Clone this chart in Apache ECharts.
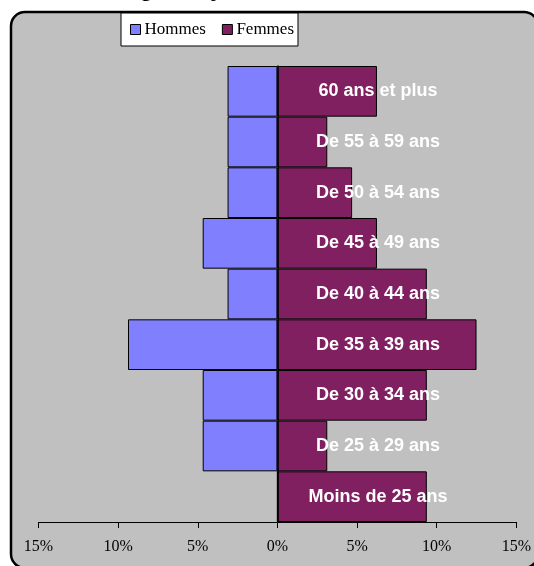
<!DOCTYPE html>
<html>
<head>
<meta charset="utf-8">
<script src="https://cdn.jsdelivr.net/npm/echarts@6/dist/echarts.min.js"></script>
<style>
  html, body { margin: 0; padding: 0; background: #fff; }
  #main { width: 534px; height: 566px; }
</style>
</head>
<body>
<div id="main"></div>
<script>
// age groups, bottom to top
const categories = ['Moins de 25 ans', 'De 25 à 29 ans', 'De 30 à 34 ans', 'De 35 à 39 ans',
  'De 40 à 44 ans', 'De 45 à 49 ans', 'De 50 à 54 ans', 'De 55 à 59 ans', '60 ans et plus']
// shares in %
const hommes = [0, 4.69, 4.69, 9.38, 3.13, 4.69, 3.13, 3.13, 3.13]
const femmes = [9.38, 3.13, 9.38, 12.5, 9.38, 6.25, 4.69, 3.13, 6.25]
const seriesNames = ['Hommes', 'Femmes']

const chart = echarts.init(document.getElementById('main'))

const option = {
  backgroundColor: '#fff',
  animation: false,
  graphic: [
    {
      type: 'rect', z: -10, silent: true,
      shape: { x: 11, y: 12, width: 527, height: 556, r: 14 },
      style: { fill: '#c0c0c0', stroke: '#000', lineWidth: 2.5 }
    },
    {
      type: 'text', z: -5, silent: true,
      x: 122, y: -23,
      style: { text: 'Âge moyen du site, 2010', font: 'bold 24px "Liberation Sans", Arial', fill: '#000' }
    }
  ],
  legend: {
    data: seriesNames,
    left: 121, top: 13,
    padding: [8, 4, 8, 9],
    backgroundColor: '#fff',
    borderColor: '#000',
    borderWidth: 1,
    borderRadius: 0,
    icon: 'rect',
    itemWidth: 10, itemHeight: 10,
    itemGap: 16,
    itemStyle: { borderColor: '#000', borderWidth: 1 },
    textStyle: { fontFamily: '"Liberation Serif", "Times New Roman"', fontSize: 17, color: '#000', padding: [0, 0, 0, -1] }
  },
  grid: { left: 38.5, right: 16.5, top: 66, bottom: 44, containLabel: false },
  xAxis: {
    type: 'value',
    min: -15, max: 15, interval: 5,
    splitLine: { show: false },
    axisLine: { show: true, lineStyle: { color: '#000', width: 1 } },
    axisTick: { show: true, length: 6, lineStyle: { color: '#000' } },
    axisLabel: {
      margin: 17,
      fontFamily: '"Liberation Serif", "Times New Roman"',
      fontSize: 16, color: '#000',
      formatter: v => Math.abs(v) + '%'
    }
  },
  yAxis: {
    type: 'category',
    data: categories,
    z: 10,
    axisLine: { show: true, onZero: true, lineStyle: { color: '#000', width: 1.5 } },
    axisTick: { show: false },
    axisLabel: {
      // labels sit in the women's half, centred near the 6% mark
      margin: -339.5,
      align: 'center',
      padding: [0, 0, 6, 0],
      fontFamily: '"Liberation Sans", Arial',
      fontWeight: 'bold',
      fontSize: 18,
      color: '#fff'
    }
  },
  series: [
    {
      name: seriesNames[0],
      type: 'bar',
      stack: 'pyr',
      barCategoryGap: '0%',
      itemStyle: { color: '#8080ff', borderColor: '#000', borderWidth: 1 },
      data: hommes.map(v => -v)
    },
    {
      name: seriesNames[1],
      type: 'bar',
      stack: 'pyr',
      barCategoryGap: '0%',
      itemStyle: { color: '#802060', borderColor: '#000', borderWidth: 1 },
      data: femmes
    }
  ]
}

chart.setOption(option)
</script>
</body>
</html>
